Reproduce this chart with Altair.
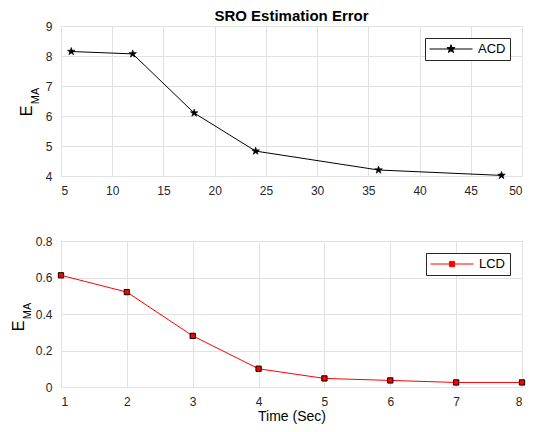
import altair as alt
import pandas as pd

# ---------------- data ----------------
acd_x = [6, 12, 18, 24, 36, 48]
acd_y = [8.15, 8.07, 6.10, 4.83, 4.20, 4.02]

lcd_x = [1, 2, 3, 4, 5, 6, 7, 8]
lcd_y = [0.612, 0.520, 0.280, 0.100, 0.047, 0.036, 0.025, 0.025]

top_x_ticks = [5, 10, 15, 20, 25, 30, 35, 40, 45, 50]
top_y_ticks = [4, 5, 6, 7, 8, 9]
bot_x_ticks = [1, 2, 3, 4, 5, 6, 7, 8]
bot_y_ticks = [0, 0.2, 0.4, 0.6, 0.8]

title_text = "SRO Estimation Error"
x_title = "Time (Sec)"
y_main = "E"
y_sub = "MA"

# ---------------- style ----------------
FONT = "Liberation Sans"
W = 461
H_TOP = 150
H_BOT = 146
GRID = "#e2e2e2"
FRAME = "#262626"
LBL = 12

star_pts = [(0, -1), (0.235, -0.324), (0.951, -0.309), (0.380, 0.124), (0.588, 0.809),
            (0, 0.4), (-0.588, 0.809), (-0.380, 0.124), (-0.951, -0.309), (-0.235, -0.324)]


def poly(pts, k):
    return "M" + "L".join(f"{px * k:.4f},{py * k:.4f}" for px, py in pts) + "Z"


STAR = poly(star_pts, 1.0)
LEG_STAR = "M-1,0L1,0" + poly(star_pts, 0.2)
LEG_SQ = "M-1,0L1,0M-0.12,-0.12L0.12,-0.12L0.12,0.12L-0.12,0.12Z"

acd = pd.DataFrame({"x": acd_x, "y": acd_y, "series": ["ACD"] * len(acd_x)})
lcd = pd.DataFrame({"x": lcd_x, "y": lcd_y, "series": ["LCD"] * len(lcd_x)})


def axis(values, fmt, pad, **kw):
    return alt.Axis(values=values, format=fmt, labelFont=FONT, labelFontSize=LBL,
                    labelColor=FRAME, labelPadding=pad, grid=True, gridColor=GRID,
                    gridWidth=1, domain=False, ticks=False, **kw)


def legend(sym, col, fill):
    return alt.Legend(
        title=None, orient="top-right", offset=12,
        symbolType=sym, symbolSize=1849, symbolStrokeColor=col, symbolFillColor=fill,
        symbolStrokeWidth=1, labelFont=FONT, labelFontSize=13, labelColor="black",
        strokeColor=FRAME, fillColor="white", padding=4, clipHeight=14, labelOffset=5,
        cornerRadius=0,
    )


def ylabel(e_x, e_y, ma_x, ma_y):
    e = alt.Chart(alt.Data(values=[{"t": y_main}])).mark_text(
        angle=270, fontSize=16, font=FONT, baseline="alphabetic", align="center", color="black"
    ).encode(text="t:N", x=alt.value(e_x), y=alt.value(e_y))
    ma = alt.Chart(alt.Data(values=[{"t": y_sub}])).mark_text(
        angle=270, fontSize=11, font=FONT, baseline="alphabetic", align="center", color="black"
    ).encode(text="t:N", x=alt.value(ma_x), y=alt.value(ma_y))
    return e + ma


# ---------------- top panel ----------------
tx = alt.X("x:Q", scale=alt.Scale(domain=[5, 50], nice=False, zero=False),
           axis=axis(top_x_ticks, "d", 9, title=None, minExtent=22, maxExtent=22))
ty = alt.Y("y:Q", scale=alt.Scale(domain=[4, 9], nice=False, zero=False),
           axis=axis(top_y_ticks, "d", 9, title=None, minExtent=52, maxExtent=52))

top_line = alt.Chart(acd).mark_line(color="black", strokeWidth=1).encode(x=tx, y=ty)
top_pts = alt.Chart(acd).mark_point(shape=STAR, filled=True, size=64, stroke="black",
                                    strokeWidth=0.6, opacity=1).encode(
    x=tx, y=ty,
    fill=alt.Fill("series:N", scale=alt.Scale(domain=["ACD"], range=["black"]),
                  legend=legend(LEG_STAR, "black", "black")),
)
top = alt.layer(top_line, top_pts, ylabel(-29, 85, -22, 70)).properties(
    width=W, height=H_TOP,
    title=alt.TitleParams(title_text, font=FONT, fontSize=15, fontWeight="bold",
                          anchor="middle", frame="group", offset=-4, color="black"),
)

# ---------------- bottom panel ----------------
bx = alt.X("x:Q", scale=alt.Scale(domain=[1, 8], nice=False, zero=False),
           axis=axis(bot_x_ticks, "d", 9, title=x_title, titleFont=FONT,
                     titleFontSize=14, titleFontWeight="normal", titleColor="black",
                     titlePadding=2))
by = alt.Y("y:Q", scale=alt.Scale(domain=[0, 0.8], nice=False, zero=False),
           axis=axis(bot_y_ticks, "~g", 9, title=None, minExtent=52, maxExtent=52))

bot_line = alt.Chart(lcd).mark_line(color="red", strokeWidth=1).encode(x=bx, y=by)
bot_pts = alt.Chart(lcd).mark_point(shape="square", filled=True, size=28, stroke="black",
                                    strokeWidth=1, opacity=1).encode(
    x=bx, y=by,
    fill=alt.Fill("series:N", scale=alt.Scale(domain=["LCD"], range=["red"]),
                  legend=legend(LEG_SQ, "red", "red")),
)
bottom = alt.layer(bot_line, bot_pts, ylabel(-37, 85, -30, 70)).properties(width=W, height=H_BOT)

chart = alt.vconcat(top, bottom, spacing=35).properties(
    padding={"left": 0, "top": 0, "right": 0, "bottom": 0}
).resolve_scale(fill="independent").configure_view(
    stroke=FRAME, strokeWidth=1
).configure(background="white")

chart.save("out.html", embed_options={"renderer": "svg", "actions": False})
